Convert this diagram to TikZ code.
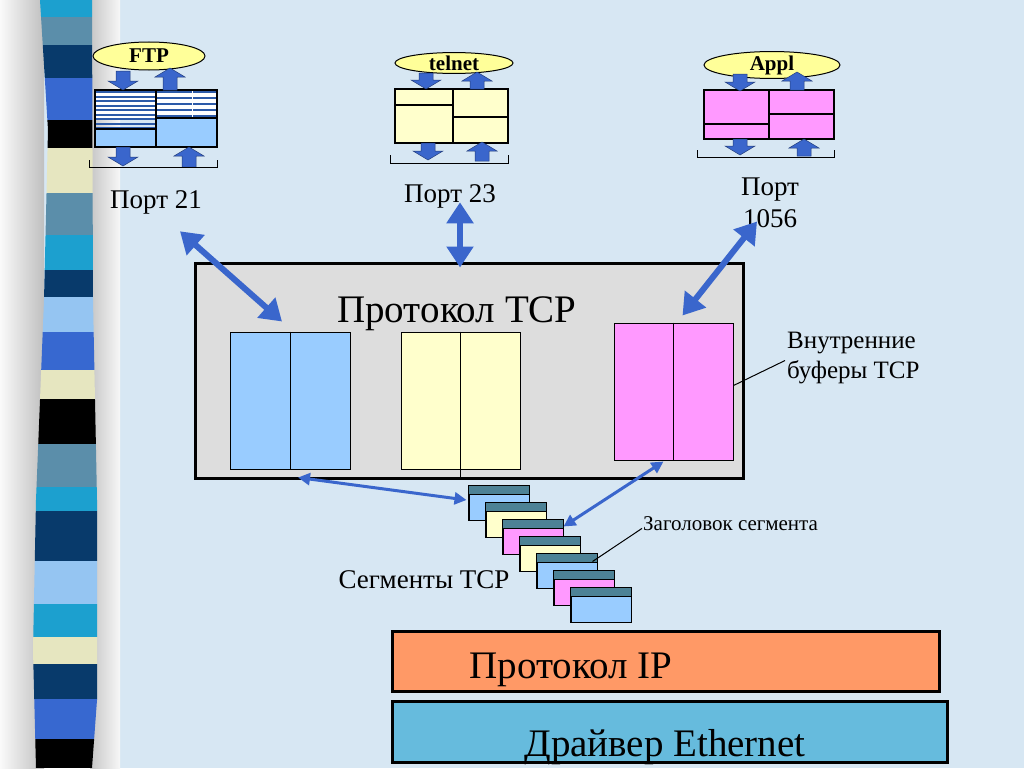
\documentclass[tikz,border=0pt]{standalone}
\usepackage{fontspec}
\setmainfont{Liberation Serif}
\usepackage{xcolor}
\usepackage{tikz}
\usetikzlibrary{calc,arrows.meta,shapes.geometric}
\definecolor{bgblue}{HTML}{D7E7F3}
\definecolor{arrblue}{HTML}{3A66CC}
\definecolor{bufblue}{HTML}{99CCFF}
\definecolor{bufyel}{HTML}{FFFFCC}
\definecolor{bufpink}{HTML}{FF99FF}
\definecolor{boxgray}{HTML}{DDDDDD}
\definecolor{hdrteal}{HTML}{4D8296}
\definecolor{iporange}{HTML}{FF9966}
\definecolor{ethblue}{HTML}{66BBDD}
\definecolor{ellyel}{HTML}{FFFF99}
\definecolor{hatchblue}{HTML}{2C5AA8}
\definecolor{stcyan}{HTML}{1CA0CF}
\definecolor{ststeel}{HTML}{5B8EAA}
\definecolor{stnavy}{HTML}{083A6B}
\definecolor{stroyal}{HTML}{3768D0}
\definecolor{stcream}{HTML}{E6E6C0}
\definecolor{stlight}{HTML}{95C5F2}
\tikzset{bigarr/.style={line width=6pt,arrblue,{Triangle[width=26pt,length=21pt]}-{Triangle[width=26pt,length=21pt]}},
  thinarr/.style={line width=3pt,arrblue,{Triangle[width=12pt,length=12pt]}-{Triangle[width=12pt,length=12pt]}},
  blk/.style={fill=arrblue,draw=arrblue!60!black,line width=0.5pt},
  appell/.style={ellipse,draw,line width=1pt,fill=ellyel,inner sep=0pt,font=\bfseries\fontsize{21}{23}\selectfont},
  portbox/.style={draw,line width=2pt},
  buf/.style={draw,line width=1pt,inner sep=0pt},
  seg/.style={draw,line width=1pt,minimum width=60pt,minimum height=34pt,inner sep=0pt},
  layer/.style={draw,line width=3pt,inner sep=0pt},
  bigtxt/.style={font=\fontsize{39}{44}\selectfont},
  porttxt/.style={font=\fontsize{27}{32}\selectfont,align=center},
  notetxt/.style={font=\fontsize{25}{30}\selectfont,align=left,inner sep=2pt}}
% block arrows of the ports: x, start, tip
\newcommand{\blkdown}[3]{\filldraw[blk] (#1-7,#2) -- (#1+7,#2) -- (#1+7,#3-9) -- (#1+15,#3-9) -- (#1,#3) -- (#1-15,#3-9) -- (#1-7,#3-9) -- cycle;}
\newcommand{\blkup}[3]{\filldraw[blk] (#1-7,#2) -- (#1+7,#2) -- (#1+7,#3+9) -- (#1+15,#3+9) -- (#1,#3) -- (#1-15,#3+9) -- (#1-7,#3+9) -- cycle;}

\begin{document}
\begin{tikzpicture}[x=1pt,y=-1pt]
\useasboundingbox (0,0) rectangle (1024,768);
\fill[bgblue] (0,0) rectangle (1024,768);
% striped band on the left
\shade[left color=gray!4,right color=gray!50] (0,0) rectangle (44,768);
\shade[left color=gray!45,right color=gray!6] (90,0) rectangle (120,768);
\begin{scope}
\clip (40,0) -- (92,0) -- (93,300) -- (97,500) -- (97,700) -- (92,768) -- (36,768) -- (33,650) -- (36,500) -- (44,300) -- (48,130) -- cycle;
\foreach \ya/\yb/\c in {0/17/stcyan,17/45/ststeel,45/78/stnavy,78/120/stroyal,120/148/black,148/193/stcream,193/235/ststeel,235/270/stcyan,270/297/stnavy,297/332/stlight,332/370/stroyal,370/399/stcream,399/444/black,444/487/ststeel,487/511/stcyan,511/561/stnavy,561/604/stlight,604/637/stcyan,637/664/stcream,664/699/stnavy,699/739/stroyal,739/768/black}
  \fill[\c] (0,\ya) rectangle (120,\yb);
\end{scope}

% port 21 (FTP)
\node[appell,minimum width=112pt,minimum height=28pt] (ftp) at (149,56) {FTP};
\fill[white] (95,90) rectangle (217,118);
\foreach \y in {92,96.5,...,128} \draw[hatchblue,line width=2pt] (95,\y) -- (156,\y);
\foreach \y in {92,98,...,116} \draw[hatchblue,line width=2.5pt] (156,\y) -- (217,\y);
\draw[white,line width=0.6pt] (192,90) -- (192,118);
\fill[bufblue] (95,129) rectangle (156,147);
\fill[bufblue] (156,118) rectangle (217,147);
\draw[portbox] (95,90) rectangle (217,147);
\draw[portbox] (156,90) -- (156,147) (95,129) -- (156,129) (156,118) -- (217,118);
\blkdown{123}{71}{90} \blkup{170}{90}{68}
\blkdown{123}{147}{166} \blkup{189}{167}{147}
\draw[line width=1pt] (89,160) -- (89,167) -- (217,167) -- (217,160);
\node[porttxt,anchor=base] (p21) at (156,208) {Порт 21};

% port 23 (telnet)
\node[appell,minimum width=118pt,minimum height=20pt] (telnet) at (454,63) {telnet};
\fill[bufyel] (395,89) rectangle (508,143);
\draw[portbox] (395,89) rectangle (508,143);
\draw[portbox] (453,89) -- (453,143) (395,105) -- (453,105) (453,117) -- (508,117);
\blkdown{426}{73}{89} \blkup{477}{89}{72}
\blkdown{428}{143}{160} \blkup{482}{161}{142}
\draw[line width=1pt] (390,155) -- (390,163) -- (508,163) -- (508,155);
\node[porttxt,anchor=base] (p23) at (450,202) {Порт 23};

% port 1056 (Appl)
\node[appell,minimum width=136pt,minimum height=18pt] (appl) at (772,65) {Appl};
\fill[bufpink] (704,90) rectangle (834,139);
\draw[portbox] (704,90) rectangle (834,139);
\draw[portbox] (769,90) -- (769,139) (704,124) -- (769,124) (769,114) -- (834,114);
\blkdown{740}{74}{91} \blkup{797}{90}{72}
\blkdown{740}{139}{155} \blkup{804}{156}{139}
\draw[line width=1pt] (697,150) -- (697,157) -- (834,157) -- (834,150);
\node[porttxt] (p1056) at (770,203) {Порт\\1056};

% TCP with its buffers
\node[layer,fill=boxgray,minimum width=548pt,minimum height=215pt] (tcp) at (469,370.5) {};
\node[bigtxt,anchor=base] (tcptxt) at (457,322) {Протокол TCP};
\node[buf,fill=bufblue,minimum width=120pt,minimum height=137pt] (bufA) at (290,400.5) {};
\node[buf,fill=bufyel,minimum width=119pt,minimum height=137pt] (bufB) at (460.5,400.5) {};
\node[buf,fill=bufpink,minimum width=119pt,minimum height=137pt] (bufC) at (673.5,391.5) {};
\draw[line width=1pt] (bufA.north) -- (bufA.south);
\draw[line width=1pt] (bufB.north) -- (bufB.south |- tcp.south);
\draw[line width=1pt] (bufC.north) -- (bufC.south);

\draw[bigarr] ($(p21.south)+(24,14)$) -- ($(bufA.north)+(-8,-10)$);
\draw[bigarr] ($(p23.south)+(10,-9)$) -- ($(p23.south |- tcp.north)+(10,6)$);
\draw[bigarr] ($(p1056.south)+(-13,-10)$) -- ($(bufC.north)+(9,-7)$);

% segments
\foreach \i/\c in {1/bufblue,2/bufyel,3/bufpink,4/bufyel,5/bufblue,6/bufpink,7/bufblue}{
  \node[seg,fill=\c] (seg\i) at ({499+17*(\i-1)},{503+17*(\i-1)}) {};
  \fill[hdrteal] (seg\i.north west) rectangle ($(seg\i.north east)+(0,9)$);
  \draw[line width=1pt] (seg\i.north west) rectangle (seg\i.south east);
  \draw[line width=1pt] ($(seg\i.north west)+(0,9)$) -- ($(seg\i.north east)+(0,9)$);
}
\draw[thinarr] ($(bufA.south)+(8,8)$) -- ($(seg1.west)+(-2,-3)$);
\draw[thinarr] ($(bufC.south)+(-10,1)$) -- ($(seg3.north east)+(0,7)$);

\node[notetxt,anchor=base west] (bufnote) at (785,378) {Внутренние\\буферы TCP};
\draw[line width=1pt] ($(bufC.east)+(0,-6)$) -- ($(bufnote.west)+(0,3)$);
\node[font=\fontsize{21}{25}\selectfont,anchor=base west,inner sep=2pt] (hdrnote) at (641,530) {Заголовок сегмента};
\draw[line width=1pt] ($(seg5.north east)+(-5,8)$) -- ($(hdrnote.south west)+(1,-4)$);
\node[porttxt,anchor=base] (segnote) at (424,588) {Сегменты TCP};

% lower layers
\node[layer,fill=iporange,minimum width=547pt,minimum height=60pt] (ip) at (665.5,661) {};
\node[bigtxt,anchor=base] (iptxt) at (571,678) {Протокол IP};
\node[layer,fill=ethblue,minimum width=555pt,minimum height=61pt] (eth) at (669.5,731.5) {};
\node[bigtxt,anchor=base] (ethtxt) at (665,756) {Драйвер Ethernet};
\end{tikzpicture}
\end{document}
